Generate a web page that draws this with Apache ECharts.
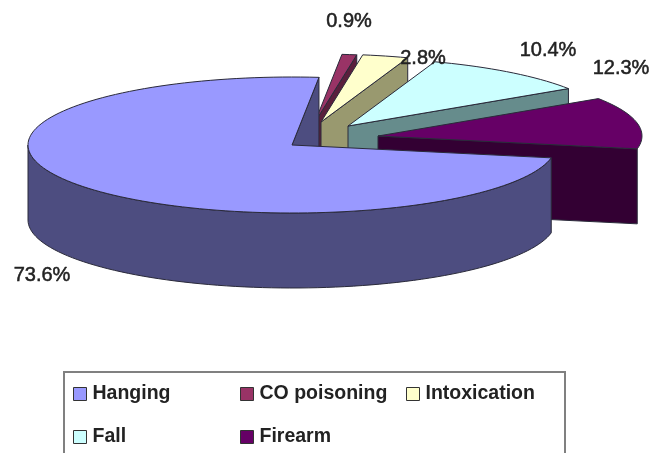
<!DOCTYPE html>
<html>
<head>
<meta charset="utf-8">
<style>html,body{margin:0;padding:0;background:#fff;overflow:hidden}#c{width:653px;height:453px;filter:blur(0.5px)}</style>
<script src="https://cdn.jsdelivr.net/npm/echarts@6/dist/echarts.min.js"></script>
</head>
<body>
<div id="c"></div>
<script>
var categories = ['Hanging', 'CO poisoning', 'Intoxication', 'Fall', 'Firearm'];
var shareValues = [73.6, 0.9, 2.8, 10.4, 12.3];
var topColors = ['#9999FF', '#993366', '#FFFFCC', '#CCFFFF', '#660066'];
var sideColors = ['#4D4D80', '#5A1F3C', '#99996F', '#668C8C', '#330033'];
var sliceCentres = [[292, 145], [315, 122], [321, 122], [348, 126], [378, 136]];
var labelSpots = [[42, 275], [349, 21], [423, 58], [548, 50], [621, 68]];
var paintOrder = [1, 2, 3, 4, 0];
var legendColumns = [[0, 3], [1, 4], [2]];
var legendLefts = [73, 240, 406];

var START_DEG = 100.9, RX = 264, RY = 68, DEPTH = 75;
var FONT = '"Liberation Sans", Arial, sans-serif';
var EDGE = '#2a2a3a';

function point(c, deg, dy) {
  var a = deg * Math.PI / 180;
  return [c[0] + RX * Math.sin(a), c[1] - RY * Math.cos(a) + (dy || 0)];
}
function sliceAngles(i) {
  var total = shareValues.reduce(function (s, v) { return s + v; }, 0);
  var before = shareValues.slice(0, i).reduce(function (s, v) { return s + v; }, 0);
  return [START_DEG + before / total * 360, START_DEG + (before + shareValues[i]) / total * 360];
}
function arc(c, a0, a1, dy) {
  var pts = [], n = Math.max(2, Math.ceil(Math.abs(a1 - a0) / 2));
  for (var k = 0; k <= n; k++) pts.push(point(c, a0 + (a1 - a0) * k / n, dy));
  return pts;
}
function poly(points, fill, stroke) {
  return { type: 'polygon', shape: { points: points },
    style: { fill: fill, stroke: stroke || EDGE, lineWidth: 1, lineJoin: 'round' } };
}
function renderSlice(i) {
  return function () {
    var ang = sliceAngles(i), c = sliceCentres[i], a0 = ang[0], a1 = ang[1];
    var kids = [];
    var p1 = point(c, a1);
    kids.push(poly([c, p1, point(c, a1, DEPTH), [c[0], c[1] + DEPTH]], sideColors[i]));
    var f0 = Math.max(a0, 90), f1 = Math.min(a1, 270);
    if (f1 > f0) {
      kids.push(poly(arc(c, f0, f1, 0).concat(arc(c, f1, f0, DEPTH)), sideColors[i]));
    }
    kids.push(poly([c].concat(arc(c, a0, a1, 0)), topColors[i]));
    kids.push({ type: 'text', z2: 1000, style: {
      x: labelSpots[i][0], y: labelSpots[i][1], text: shareValues[i].toFixed(1) + '%',
      fill: '#222', stroke: '#222', lineWidth: 0.5, font: '20px ' + FONT, align: 'center', verticalAlign: 'middle' } });
    return { type: 'group', children: kids };
  };
}

var series = paintOrder.map(function (i) {
  return {
    type: 'custom', name: categories[i], coordinateSystem: 'none',
    data: [shareValues[i]], renderItem: renderSlice(i), silent: true, clip: false,
    itemStyle: { color: topColors[i] }
  };
});
var legends = legendColumns.map(function (col, k) {
  return {
    orient: 'vertical', left: legendLefts[k], top: 384, height: 69, padding: 0,
    icon: 'rect', itemWidth: 13, itemHeight: 13, itemGap: 23, selectedMode: false,
    data: col.map(function (i) { return categories[i]; }),
    itemStyle: { borderColor: '#333', borderWidth: 1 },
    textStyle: { color: '#222', fontFamily: FONT, fontWeight: 'bold', fontSize: 19.5, lineHeight: 20, padding: [0, 0, 0, 1] }
  };
});

var chart = echarts.init(document.getElementById('c'), null, { renderer: 'canvas' });
chart.setOption({
  animation: false,
  backgroundColor: '#fff',
  legend: legends,
  graphic: [{ type: 'rect', z: -1, shape: { x: 64, y: 372, width: 501, height: 100 },
    style: { fill: '#fff', stroke: '#808080', lineWidth: 2 } }],
  series: series
});
</script>
</body>
</html>
